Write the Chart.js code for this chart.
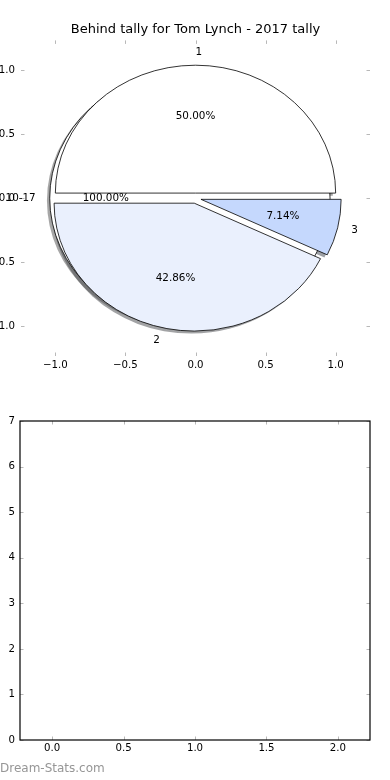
<!DOCTYPE html>
<html>
<head>
<meta charset="utf-8">
<script src="https://cdn.jsdelivr.net/npm/chart.js@4/dist/chart.umd.min.js"></script>
<style>
  html, body { margin: 0; padding: 0; background: #fff; width: 390px; height: 780px; overflow: hidden; position: relative; }
  .bloc { position: absolute; left: -20px; width: 410px; }
  #bloc-haut { top: 0; height: 380px; }
  #bloc-bas  { top: 380px; height: 400px; }
  #filigrane { position: absolute; left: 0; top: 761px; font: 12px 'DejaVu Sans'; line-height: 14px; color: #969696; }
</style>
</head>
<body>
<div class="bloc" id="bloc-haut"><canvas id="chartPie"></canvas></div>
<div class="bloc" id="bloc-bas"><canvas id="chartVide"></canvas></div>
<div id="filigrane">Dream-Stats.com</div>
<script>
// ── DONNÉES ───────────────────────────────────────
const TITRE = 'Behind tally for Tom Lynch - 2017 tally';

const rangeLabels = ['10-17'];
const rangeValues = [1];

const tallyLabels = ['1', '2', '3'];
const tallyValues = [7, 6, 1];

const pieTicks    = [-1.0, -0.5, 0.0, 0.5, 1.0];
const lowerXTicks = [0.0, 0.5, 1.0, 1.5, 2.0];
const lowerYTicks = [0, 1, 2, 3, 4, 5, 6, 7];
const lowerSeries = [];

// ── COULEURS ──────────────────────────────────────
const COULEURS = {
  range:  ['#ffffff'],
  tally:  ['#ffffff', '#eaf0fd', '#c5d8fd'],
  bord:   '#000000',
  tick:   '#b8b8b8',
  texte:  '#000000'
};

// réglages du camembert façon matplotlib
const EXPLODE = 0.04;
const LABEL_DIST = 1.1;
const PCT_DIST = 0.6;
const OMBRE = -0.02;

Chart.defaults.font.family = "'DejaVu Sans'";
Chart.defaults.color = COULEURS.texte;

function fmtDecimal(v) {
  return (v < 0 ? '\u2212' : '') + Math.abs(v).toFixed(1);
}

// ── PARTS ─────────────────────────────────────────
function calculerParts(labels, values, couleurs) {
  const total = values.reduce((a, b) => a + b, 0);
  let debut = 0;
  return values.map(function(v, i) {
    const angle = v / total * 2 * Math.PI;
    const milieu = debut + angle / 2;
    const p = {
      label: labels[i], frac: v / total, couleur: couleurs[i],
      a1: debut, a2: debut + angle, milieu: milieu,
      ox: EXPLODE * Math.cos(milieu), oy: EXPLODE * Math.sin(milieu)
    };
    debut += angle;
    return p;
  });
}

function tracerPart(ctx, sx, sy, p, dx, dy) {
  const cx = sx.getPixelForValue(p.ox + dx);
  const cy = sy.getPixelForValue(p.oy + dy);
  const rx = Math.abs(sx.getPixelForValue(1) - sx.getPixelForValue(0));
  const ry = Math.abs(sy.getPixelForValue(1) - sy.getPixelForValue(0));
  ctx.beginPath();
  if (p.frac >= 1) {
    ctx.ellipse(cx, cy, rx, ry, 0, 0, 2 * Math.PI);
  } else {
    ctx.moveTo(cx, cy);
    ctx.ellipse(cx, cy, rx, ry, 0, -p.a1, -p.a2, true);
    ctx.closePath();
  }
}

function assombrir(hex) {
  const n = parseInt(hex.slice(1), 16);
  const r = Math.round(((n >> 16) & 255) * 0.3);
  const g = Math.round(((n >> 8) & 255) * 0.3);
  const b = Math.round((n & 255) * 0.3);
  return 'rgba(' + r + ',' + g + ',' + b + ',0.5)';
}

const pluginCamembert = {
  id: 'camembert',
  afterDraw(chart) {
    const ctx = chart.ctx, sx = chart.scales.x, sy = chart.scales.y, a = chart.chartArea;
    const pies = [
      calculerParts(rangeLabels, rangeValues, COULEURS.range),
      calculerParts(tallyLabels, tallyValues, COULEURS.tally)
    ];
    ctx.save();
    // titre centré sur la zone des axes (comme matplotlib)
    ctx.fillStyle = COULEURS.texte;
    ctx.font = "13px 'DejaVu Sans'";
    ctx.textAlign = 'center';
    ctx.textBaseline = 'middle';
    ctx.fillText(TITRE, (a.left + a.right) / 2, a.top - 10.5);

    // ombres d'abord (sous toutes les parts)
    pies.forEach(function(parts) {
      parts.forEach(function(p) {
        tracerPart(ctx, sx, sy, p, OMBRE, OMBRE);
        ctx.fillStyle = assombrir(p.couleur);
        ctx.fill();
      });
    });
    pies.forEach(function(parts) {
      parts.forEach(function(p) {
        tracerPart(ctx, sx, sy, p, 0, 0);
        ctx.fillStyle = p.couleur;
        ctx.fill();
        ctx.lineWidth = 0.8;
        ctx.strokeStyle = COULEURS.bord;
        ctx.lineJoin = 'miter';
        ctx.stroke();
      });
    });
    // textes
    ctx.fillStyle = COULEURS.texte;
    ctx.font = "10.4px 'DejaVu Sans'";
    ctx.textBaseline = 'middle';
    pies.forEach(function(parts) {
      parts.forEach(function(p) {
        const c = Math.cos(p.milieu), s = Math.sin(p.milieu);
        const lx = p.ox + LABEL_DIST * c, ly = p.oy + LABEL_DIST * s;
        ctx.textAlign = lx > 0 ? 'left' : 'right';
        ctx.fillText(p.label, sx.getPixelForValue(lx), sy.getPixelForValue(ly));
        const px = p.ox + PCT_DIST * c, py = p.oy + PCT_DIST * s;
        ctx.textAlign = 'center';
        ctx.fillText((p.frac * 100).toFixed(2) + '%', sx.getPixelForValue(px), sy.getPixelForValue(py));
      });
    });
    ctx.restore();
  }
};

// ── TICKS VERS L'INTÉRIEUR + CADRE ────────────────
const pluginTicks = {
  id: 'ticksInternes',
  afterDraw(chart, args, opts) {
    const ctx = chart.ctx, a = chart.chartArea;
    const L = 3.5;
    ctx.save();
    ctx.strokeStyle = COULEURS.tick;
    ctx.lineWidth = 1;
    ctx.beginPath();
    chart.scales.x.ticks.forEach(function(t) {
      const x = Math.round(chart.scales.x.getPixelForValue(t.value)) + 0.5;
      ctx.moveTo(x, a.top); ctx.lineTo(x, a.top + L);
      ctx.moveTo(x, a.bottom); ctx.lineTo(x, a.bottom - L);
    });
    chart.scales.y.ticks.forEach(function(t) {
      const y = Math.round(chart.scales.y.getPixelForValue(t.value)) + 0.5;
      ctx.moveTo(a.left, y); ctx.lineTo(a.left + L, y);
      ctx.moveTo(a.right, y); ctx.lineTo(a.right - L, y);
    });
    ctx.stroke();
    if (opts.cadre) {
      ctx.strokeStyle = '#000';
      ctx.lineWidth = 1.2;
      ctx.strokeRect(a.left, a.top, a.right - a.left, a.bottom - a.top);
    }
    ctx.restore();
  }
};

// ── GRAPHIQUE HAUT — camembert ────────────────────
new Chart(document.getElementById('chartPie'), {
  type: 'scatter',
  data: { datasets: [] },
  plugins: [pluginTicks, pluginCamembert],
  options: {
    responsive: true,
    maintainAspectRatio: false,
    animation: false,
    layout: { padding: { top: 40.4, right: 20 } },
    plugins: {
      legend: { display: false },
      tooltip: { enabled: false },
      ticksInternes: { cadre: false }
    },
    scales: {
      x: {
        type: 'linear', min: -1.245, max: 1.245,
        grid: { display: false, drawTicks: false },
        border: { display: false },
        afterBuildTicks: function(s) { s.ticks = pieTicks.map(v => ({ value: v })); },
        afterFit: function(s) { s.height = 24; },
        ticks: { padding: 3, font: { size: 10.2 }, callback: fmtDecimal }
      },
      y: {
        type: 'linear', min: -1.234, max: 1.234,
        grid: { display: false, drawTicks: false },
        border: { display: false },
        afterBuildTicks: function(s) { s.ticks = pieTicks.map(v => ({ value: v })); },
        afterFit: function(s) { s.width = 41; },
        ticks: { padding: 6, font: { size: 10.2 }, callback: fmtDecimal }
      }
    }
  }
});

// ── GRAPHIQUE BAS — axes vides ────────────────────
new Chart(document.getElementById('chartVide'), {
  type: 'scatter',
  data: { datasets: [{ data: lowerSeries, pointRadius: 0 }] },
  plugins: [pluginTicks],
  options: {
    responsive: true,
    maintainAspectRatio: false,
    animation: false,
    layout: { padding: { top: 41, right: 20 } },
    plugins: {
      legend: { display: false },
      tooltip: { enabled: false },
      ticksInternes: { cadre: true }
    },
    scales: {
      x: {
        type: 'linear', min: -0.224, max: 2.224,
        grid: { display: false, drawTicks: false },
        border: { display: false },
        afterBuildTicks: function(s) { s.ticks = lowerXTicks.map(v => ({ value: v })); },
        afterFit: function(s) { s.height = 40; },
        ticks: { padding: 2, font: { size: 10.2 }, callback: fmtDecimal }
      },
      y: {
        type: 'linear', min: 0, max: 7,
        grid: { display: false, drawTicks: false },
        border: { display: false },
        afterBuildTicks: function(s) { s.ticks = lowerYTicks.map(v => ({ value: v })); },
        afterFit: function(s) { s.width = 40; },
        ticks: { padding: 5, font: { size: 10.2 }, callback: v => String(v) }
      }
    }
  }
});
</script>
</body>
</html>
